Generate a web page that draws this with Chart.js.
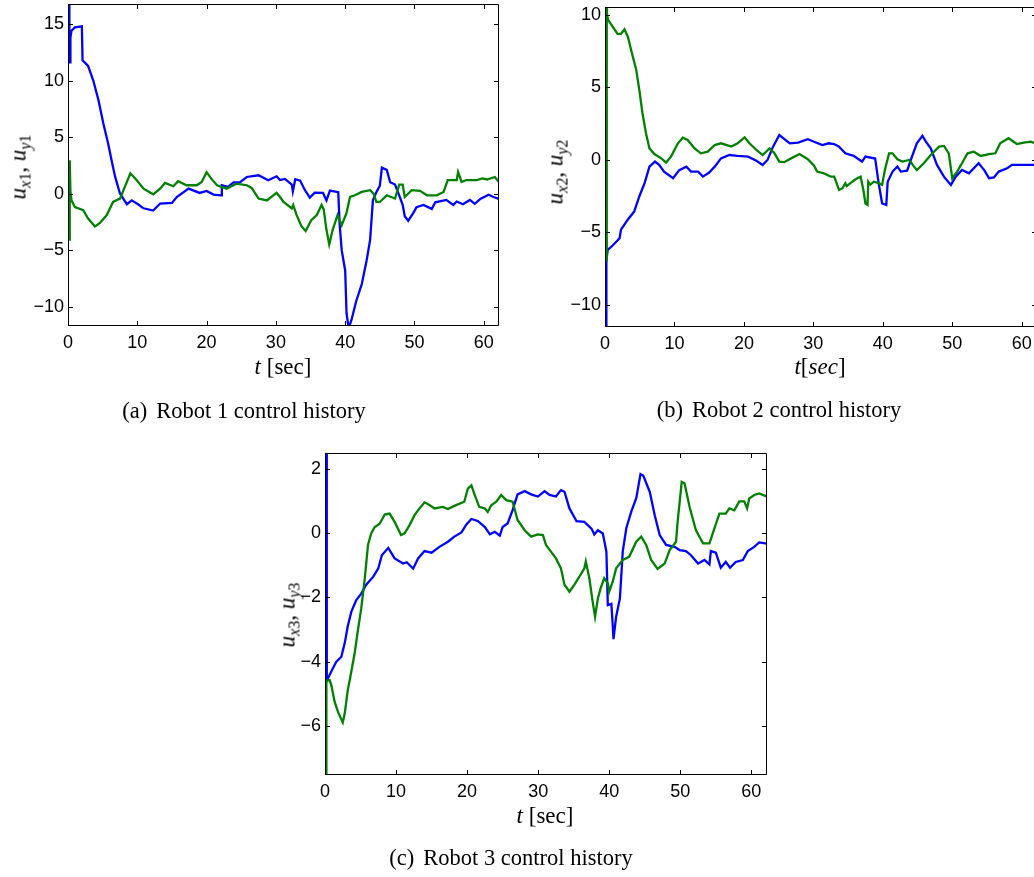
<!DOCTYPE html>
<html>
<head>
<meta charset="utf-8">
<script src="https://cdn.jsdelivr.net/npm/chart.js@4.4.1/dist/chart.umd.min.js"></script>
<style>
  html, body { margin: 0; padding: 0; background: #fff; }
  body { width: 1034px; height: 877px; position: relative; overflow: hidden; }
  canvas { position: absolute; }
  .txt { position: absolute; white-space: nowrap; font-family: "Liberation Serif", "Times New Roman", serif; color: #000; line-height: 1; transform: translate(-50%, -50%); z-index: 2; }
  .ylab { transform: translate(-50%, -50%) rotate(-90deg); font-size: 23px; }
  .xlab { font-size: 23px; }
  .cap { font-size: 22.5px; }
  .cap .tag { margin-right: 9px; }
  sub { font-size: 0.7em; vertical-align: -0.28em; line-height: 0; }
</style>
</head>
<body>

<canvas id="robot1"></canvas>
<canvas id="robot2"></canvas>
<canvas id="robot3"></canvas>

<div class="txt ylab" style="left:18px; top:167px"><i>u</i><sub><i>x</i>1</sub>, <i>u</i><sub><i>y</i>1</sub></div>
<div class="txt xlab" style="left:283px; top:366px"><i>t</i> [sec]</div>
<div class="txt cap" style="left:244px; top:411px"><span class="tag">(a)</span>Robot 1 control history</div>

<div class="txt ylab" style="left:555px; top:172px"><i>u</i><sub><i>x</i>2</sub>, <i>u</i><sub><i>y</i>2</sub></div>
<div class="txt xlab" style="left:820px; top:366px"><i>t</i>[<i>sec</i>]</div>
<div class="txt cap" style="left:779px; top:410px"><span class="tag">(b)</span>Robot 2 control history</div>

<div class="txt ylab" style="left:287px; top:615px"><i>u</i><sub><i>x</i>3</sub>, <i>u</i><sub><i>y</i>3</sub></div>
<div class="txt xlab" style="left:545px; top:815px"><i>t</i> [sec]</div>
<div class="txt cap" style="left:511px; top:858px"><span class="tag">(c)</span>Robot 3 control history</div>

<script>
// tick positions
const tickT = [0, 10, 20, 30, 40, 50, 60];
const tickU1 = [-10, -5, 0, 5, 10, 15];
const tickU2 = [-10, -5, 0, 5, 10];
const tickU3 = [-6, -4, -2, 0, 2];

// robot 1: u_x1 (blue) and u_y1 (green)
const ux1T = [0.15, 0.2, 0.3, 0.35, 0.5, 1.0, 2.0, 2.1, 2.9, 3.65, 4.4, 5.1, 5.8, 6.3, 6.8, 7.5, 8.5, 9.2, 10.1, 10.9,
  12.3, 13.3, 15.0, 15.7, 17.4, 19.0, 20.0, 21.0, 22.1, 22.2, 23.1, 23.9, 24.8, 25.8, 27.5, 28.9, 30.1, 30.6, 31.3, 32.3,
  32.45, 32.8, 33.5, 34.2, 34.9, 35.6, 36.8, 37.3, 37.8, 39.0, 39.2, 39.5, 40.0, 40.2, 40.5, 40.9, 41.6, 42.4, 43.1, 43.6,
  44.0, 44.5, 45.0, 45.3, 46.0, 46.5, 47.2, 47.7, 48.3, 48.6, 49.1, 49.8, 50.3, 51.3, 52.5, 53.0, 54.6, 55.6, 56.1, 57.0,
  58.0, 58.7, 59.5, 60.7, 61.4, 62.2];
const ux1 = [17.5, 11.6, 11.6, 13.8, 14.4, 14.7, 14.8, 11.8, 11.3, 10.0, 8.25, 6.2, 4.4, 2.9, 1.5, 0, -0.94, -0.6, -0.94, -1.3,
  -1.5, -0.88, -0.82, -0.3, 0.44, 0.06, 0.24, -0.09, -0.15, 0.74, 0.6, 1.0, 1.0, 1.47, 1.62, 1.18, 1.53, 1.2, 1.3, 0.8,
  0.2, 1.27, 1.15, 0.3, -0.35, 0.09, 0.06, -0.6, 0.27, 0.12, -2.7, -5.0, -6.8, -10.6, -11.9, -11.2, -9.5, -8.0, -5.9, -4.1,
  -0.6, 0.12, 0.7, 2.3, 2.1, 1.0, 0.8, 0, -1.0, -2.0, -2.4, -1.75, -1.2, -1.0, -1.35, -0.77, -0.56, -1.0, -0.7, -0.94,
  -0.56, -0.9, -0.47, -0.1, -0.3, -0.47];
const uy1T = [0.2, 0.22, 0.28, 0.35, 0.5, 1.0, 2.2, 2.9, 3.9, 4.6, 5.6, 6.5, 7.5, 8.2, 9.0, 9.9, 10.9, 12.3, 13.3, 14.0,
  15.2, 15.9, 17.1, 18.6, 19.3, 20.0, 20.7, 21.5, 22.9, 24.3, 25.8, 26.5, 27.5, 28.7, 30.1, 30.6, 31.1, 32.3, 32.5, 33.0,
  33.7, 34.3, 35.1, 35.9, 36.6, 36.9, 37.3, 37.7, 38.2, 38.9, 39.5, 40.2, 40.7, 41.4, 42.4, 43.6, 44.1, 44.5, 45.0, 46.0,
  47.2, 47.8, 48.3, 48.6, 49.6, 50.8, 51.8, 53.2, 54.2, 54.8, 56.1, 56.3, 56.8, 57.5, 59.0, 59.8, 60.5, 61.6, 62.2];
const uy1 = [-4.1, 2.95, 2.9, 0.2, -0.6, -1.2, -1.47, -2.2, -2.9, -2.6, -1.9, -0.74, -0.44, 0.6, 1.8, 1.2, 0.44, -0.06, 0.44, 0.94,
  0.65, 1.1, 0.74, 0.74, 1.03, 1.9, 1.3, 0.74, 0.44, 0.88, 0.74, 0.5, -0.44, -0.6, 0.06, -0.3, -0.74, -1.3, -1.0, -1.9,
  -2.9, -3.3, -2.35, -1.9, -1.0, -1.4, -3.2, -4.5, -3.2, -1.9, -2.8, -1.7, -0.3, -0.15, 0.15, 0.3, 0, -0.74, -0.74, -0.15,
  -0.44, 0.8, 0.8, -0.3, 0.3, 0.24, -0.15, -0.15, 0.15, 1.2, 1.2, 1.9, 1.03, 1.2, 1.2, 1.35, 1.25, 1.47, 1.03];

// robot 2: u_x2 (blue) and u_y2 (green)
const ux2T = [0.15, 0.2, 0.39, 1.1, 2.1, 2.3, 3.3, 4.2, 4.95, 5.7, 6.4, 7.2, 7.8, 8.5, 9.8, 10.7, 11.7, 12.4, 13.4, 14.1,
  15.0, 15.8, 16.7, 17.9, 19.1, 20.6, 21.8, 22.7, 23.4, 24.2, 25.1, 26.6, 27.8, 29.2, 30.1, 31.3, 32.2, 33.0, 33.7, 34.6,
  35.8, 37.0, 37.5, 38.9, 39.4, 39.9, 40.5, 40.7, 41.4, 42.1, 42.6, 43.5, 44.2, 44.9, 45.7, 46.2, 46.9, 47.8, 48.8, 49.8,
  50.5, 51.4, 52.4, 53.8, 54.6, 55.3, 56.0, 56.7, 57.9, 58.6, 59.8, 62.2];
const ux2 = [-12, -6.9, -6.2, -5.9, -5.4, -4.8, -4.1, -3.56, -2.5, -1.6, -0.46, -0.11, -0.34, -0.8, -1.26, -0.7, -0.46, -0.8, -0.8, -1.15,
  -0.87, -0.46, 0.11, 0.34, 0.28, 0.23, -0.05, -0.34, 0, 0.92, 1.72, 1.15, 1.2, 1.43, 1.26, 1.03, 1.15, 1.1, 0.92, 0.46,
  0.28, -0.11, 0.23, 0.1, -1.6, -3.0, -3.1, -1.5, -0.8, -0.46, -0.8, -0.74, 0.23, 1.15, 1.66, 1.26, 0.8, -0.34, -1.15, -1.72,
  -1.15, -0.69, -0.92, -0.23, -0.7, -1.26, -1.2, -0.8, -0.57, -0.34, -0.34, -0.34];
const uy2T = [0.2, 0.25, 0.3, 0.45, 1.1, 1.8, 2.3, 2.8, 3.3, 3.75, 4.5, 4.95, 5.4, 5.9, 6.4, 7.1, 8.1, 8.8, 9.5, 10.5,
  11.2, 11.9, 12.9, 13.8, 14.8, 15.8, 16.7, 18.2, 19.1, 20.1, 20.8, 21.8, 22.7, 23.7, 24.4, 25.1, 25.8, 26.8, 28.0, 29.2,
  30.1, 30.55, 31.5, 32.5, 33.0, 33.7, 34.2, 34.6, 34.8, 35.6, 36.3, 36.8, 37.2, 37.5, 37.8, 37.9, 38.2, 38.7, 39.4, 39.9,
  40.3, 40.9, 41.4, 42.1, 42.8, 43.8, 44.5, 44.9, 45.9, 46.9, 48.1, 48.8, 49.5, 50.0, 50.7, 51.4, 52.2, 53.1, 54.1, 55.3,
  56.2, 56.9, 58.1, 59.3, 60.3, 61.3, 62.2];
const uy2 = [-6.9, 11, 10.0, 9.66, 9.2, 8.7, 8.7, 9.0, 8.5, 7.6, 6.2, 4.8, 3.2, 1.84, 0.8, 0.41, 0.11, -0.18, 0.23, 1.15,
  1.54, 1.38, 0.8, 0.46, 0.57, 1.03, 1.15, 0.92, 1.15, 1.56, 1.15, 0.69, 0.34, 0.8, 0.46, -0.11, -0.15, 0.11, 0.41, 0.05,
  -0.4, -0.8, -0.92, -1.15, -1.15, -2.07, -1.95, -1.6, -1.8, -1.5, -1.26, -1.15, -2.07, -3.0, -3.1, -1.5, -1.7, -1.5, -1.6, -1.72,
  -0.69, 0.46, 0.46, 0.05, -0.11, 0, -0.46, -0.69, -0.23, 0.34, 0.92, 0.97, 0.46, -1.26, -0.8, -0.23, 0.46, 0.57, 0.28, 0.41,
  0.46, 1.15, 1.5, 1.1, 1.2, 1.26, 1.1];

// robot 3: u_x3 (blue) and u_y3 (green)
const ux3T = [0.2, 0.25, 0.9, 1.6, 2.3, 2.8, 3.2, 3.7, 4.4, 5.1, 5.8, 6.8, 7.5, 8.0, 8.9, 9.8, 11.0, 11.5, 12.4, 13.1,
  14.0, 15.0, 16.1, 17.3, 18.2, 19.2, 19.9, 20.6, 21.5, 22.5, 23.2, 23.9, 24.6, 25.0, 25.7, 26.4, 27.1, 28.1, 29.0, 29.96,
  30.9, 31.6, 32.5, 33.2, 33.7, 34.4, 35.4, 36.5, 37.5, 37.9, 38.4, 39.1, 39.6, 39.8, 40.3, 40.5, 40.6, 40.97, 41.5, 41.9,
  42.4, 43.1, 43.8, 44.4, 44.8, 45.7, 46.4, 47.1, 48.0, 49.2, 49.9, 50.8, 51.5, 52.5, 53.4, 54.1, 54.3, 55.0, 55.7, 56.4,
  57.0, 57.8, 58.8, 59.5, 60.4, 61.1, 62.2];
const ux3 = [3, -4.6, -4.3, -4.0, -3.85, -3.4, -2.9, -2.45, -2.08, -1.88, -1.6, -1.35, -1.09, -0.68, -0.45, -0.78, -0.94, -0.9, -1.1, -0.78,
  -0.55, -0.6, -0.42, -0.26, -0.1, 0.03, 0.28, 0.45, 0.39, 0.2, -0.03, 0.05, -0.07, 0.2, 0.31, 0.73, 1.22, 1.32, 1.22, 1.15,
  1.32, 1.2, 1.15, 1.35, 1.3, 0.78, 0.38, 0.36, 0.15, -0.03, 0.1, 0, -0.57, -2.24, -2.2, -2.9, -3.3, -2.6, -2.03, -0.57,
  0.16, 0.68, 1.1, 1.85, 1.8, 1.3, 0.57, -0.05, -0.36, -0.42, -0.52, -0.55, -0.68, -0.94, -0.83, -0.97, -0.55, -0.6, -1.07, -0.89,
  -1.07, -0.89, -0.83, -0.55, -0.42, -0.28, -0.32];
const uy3T = [0.15, 0.2, 0.66, 0.9, 1.36, 1.83, 2.5, 2.77, 3.2, 3.7, 4.2, 4.6, 5.1, 5.6, 6.05, 6.5, 7.0, 7.7, 8.4, 9.1,
  9.8, 10.7, 11.2, 11.9, 12.6, 13.3, 14.0, 14.7, 15.4, 16.6, 17.3, 18.2, 19.6, 20.1, 20.6, 21.0, 21.7, 22.5, 22.9, 23.4,
  24.1, 24.8, 25.5, 26.4, 27.1, 28.1, 29.0, 29.96, 30.66, 31.1, 31.8, 32.5, 33.2, 33.7, 34.4, 35.1, 35.8, 36.5, 36.7, 37.2,
  37.6, 38.0, 38.4, 38.8, 39.3, 39.8, 40.0, 40.5, 40.97, 41.9, 42.8, 43.8, 44.5, 45.2, 45.9, 46.8, 47.8, 48.5, 49.4, 49.6,
  50.2, 50.6, 51.3, 52.2, 53.2, 54.1, 54.8, 55.5, 56.4, 56.9, 57.6, 58.3, 59.0, 59.4, 59.7, 60.4, 61.1, 62.2];
const uy3 = [-7.8, -4.6, -4.58, -4.75, -5.26, -5.57, -5.9, -5.63, -4.9, -4.32, -3.7, -3.07, -2.34, -1.4, -0.36, 0, 0.2, 0.3, 0.59, 0.62,
  0.36, -0.05, 0, 0.26, 0.57, 0.78, 0.97, 0.89, 0.78, 0.83, 0.76, 0.86, 0.99, 1.4, 1.5, 1.24, 0.83, 0.78, 0.67, 0.88,
  0.99, 1.2, 1.04, 0.99, 0.42, 0.1, -0.1, -0.03, -0.05, -0.36, -0.57, -0.78, -1.09, -1.6, -1.82, -1.6, -1.35, -1.09, -0.88, -1.4,
  -2.03, -2.6, -2.03, -1.7, -1.4, -1.56, -1.82, -1.5, -1.09, -0.83, -0.73, -0.26, -0.1, -0.36, -0.83, -1.11, -0.94, -0.52, -0.26, 0.31,
  1.61, 1.56, 0.83, 0.1, -0.31, -0.31, 0.16, 0.62, 0.62, 0.78, 0.72, 1.0, 1.0, 0.78, 1.09, 1.2, 1.25, 1.15];

const BLUE = '#0000ff';
const GREEN = '#008000';
const Y_AXIS_W = 60;
const X_AXIS_H = 40;
const PAD = 24;

function toPoints(ts, vs) {
    return ts.map((t, i) => ({ x: t, y: vs[i] }));
}

function fmt(v) {
    return String(v).replace('-', '\u2212');
}

// box around the plot area with inward ticks on all four sides
const frame = {
    id: 'frame',
    afterDraw(chart) {
        const { ctx, chartArea: a, scales: { x, y } } = chart;
        const len = 5;
        ctx.save();
        ctx.strokeStyle = '#000';
        ctx.lineWidth = 1;
        ctx.beginPath();
        ctx.rect(Math.round(a.left) + 0.5, Math.round(a.top) + 0.5,
            Math.round(a.right - a.left) - 1, Math.round(a.bottom - a.top) - 1);
        x.ticks.forEach(t => {
            const px = Math.round(x.getPixelForValue(t.value)) + 0.5;
            ctx.moveTo(px, a.bottom); ctx.lineTo(px, a.bottom - len);
            ctx.moveTo(px, a.top); ctx.lineTo(px, a.top + len);
        });
        y.ticks.forEach(t => {
            const py = Math.round(y.getPixelForValue(t.value)) + 0.5;
            ctx.moveTo(a.left, py); ctx.lineTo(a.left + len, py);
            ctx.moveTo(a.right, py); ctx.lineTo(a.right - len, py);
        });
        ctx.stroke();
        ctx.restore();
    }
};

function makeChart(id, area, yMin, yMax, yTicks, blueT, blue, greenT, green) {
    const canvas = document.getElementById(id);
    canvas.width = area.w + Y_AXIS_W + PAD;
    canvas.height = area.h + PAD + X_AXIS_H;
    canvas.style.left = (area.left - Y_AXIS_W) + 'px';
    canvas.style.top = (area.top - PAD) + 'px';

    const tickFont = { family: '"Liberation Sans", Arial, sans-serif', size: 18 };

    new Chart(canvas.getContext('2d'), {
        type: 'line',
        data: {
            datasets: [{
                data: toPoints(blueT, blue),
                borderColor: BLUE,
                borderWidth: 2.3,
                pointRadius: 0,
                tension: 0,
                order: 1
            }, {
                data: toPoints(greenT, green),
                borderColor: GREEN,
                borderWidth: 2.3,
                pointRadius: 0,
                tension: 0,
                order: 0
            }]
        },
        options: {
            responsive: false,
            animation: false,
            devicePixelRatio: 1,
            layout: { padding: { left: 0, top: PAD, right: PAD, bottom: 0 } },
            plugins: { legend: { display: false }, tooltip: { enabled: false } },
            scales: {
                x: {
                    type: 'linear',
                    min: 0,
                    max: 62.2,
                    afterFit: s => { s.height = X_AXIS_H; },
                    afterBuildTicks: s => { s.ticks = tickT.map(v => ({ value: v })); },
                    grid: { display: false, drawTicks: false },
                    border: { display: false },
                    ticks: { font: tickFont, color: '#000', padding: 6, maxRotation: 0, callback: fmt }
                },
                y: {
                    type: 'linear',
                    min: yMin,
                    max: yMax,
                    afterFit: s => { s.width = Y_AXIS_W; },
                    afterBuildTicks: s => { s.ticks = yTicks.map(v => ({ value: v })); },
                    grid: { display: false, drawTicks: false },
                    border: { display: false },
                    ticks: { font: tickFont, color: '#000', padding: 4, callback: fmt }
                }
            }
        },
        plugins: [frame]
    });
}

makeChart('robot1', { left: 68, top: 4, w: 431, h: 322 }, -11.71, 16.77, tickU1, ux1T, ux1, uy1T, uy1);
makeChart('robot2', { left: 605, top: 7, w: 432, h: 320 }, -11.52, 10.55, tickU2, ux2T, ux2, uy2T, uy2);
makeChart('robot3', { left: 325, top: 453, w: 442, h: 322 }, -7.54, 2.51, tickU3, ux3T, ux3, uy3T, uy3);
</script>
</body>
</html>
